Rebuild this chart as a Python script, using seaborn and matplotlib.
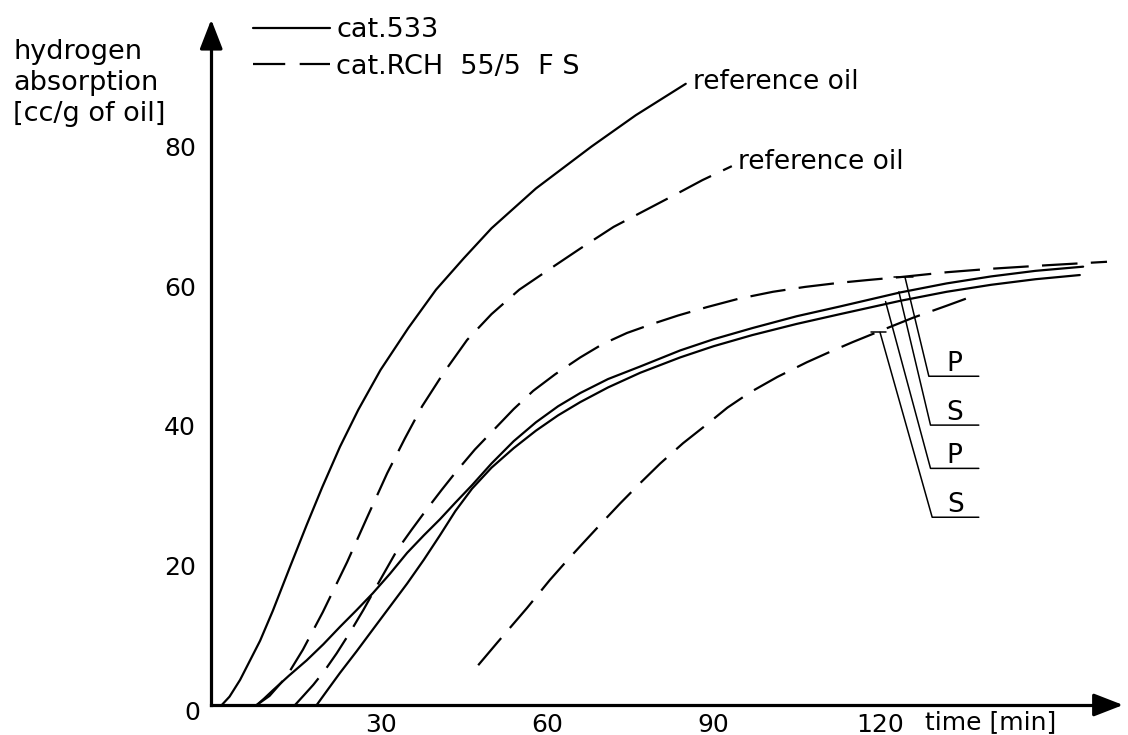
import pandas as pd
import matplotlib
matplotlib.use("Agg")
import matplotlib.pyplot as plt
from matplotlib.lines import Line2D
import seaborn as sns

# hydrogen absorption curves (time [min], cc/g of oil)
ref533_t = [1.4, 2.8, 4.7, 6.5, 8.3, 10.6, 13.7, 16.7, 19.5, 22.7, 26.0, 30.0, 35.0,
            40.0, 45.0, 50.0, 58.0, 68.0, 76.0, 85.0]
ref533_h = [0.0, 1.2, 3.6, 6.4, 9.2, 13.5, 19.8, 25.8, 31.2, 37.0, 42.3, 48.0, 54.0,
            59.5, 64.0, 68.3, 74.0, 80.0, 84.5, 89.0]

refrch_t = [7.7, 10.0, 13.0, 16.0, 19.6, 24.0, 27.6, 31.2, 34.4, 37.5, 41.3, 45.6,
            50.0, 55.0, 60.0, 66.0, 72.0, 78.0, 84.0, 88.0, 93.3]
refrch_h = [0.0, 1.3, 4.0, 7.9, 13.3, 20.5, 26.9, 33.2, 38.2, 42.8, 47.5, 52.3,
            56.0, 59.5, 62.2, 65.4, 68.5, 71.0, 73.5, 75.2, 77.2]

s533_t = [7.7, 9.0, 10.6, 13.5, 16.7, 19.7, 22.7, 25.7, 28.6, 31.7, 34.8, 37.8, 40.7,
          43.5, 46.5, 50.0, 54.0, 58.0, 62.0, 66.0, 71.0, 76.8, 84.0, 90.0, 97.0,
          105.0, 112.8, 123.6, 132.0, 140.0, 148.0, 156.6]
s533_h = [0.0, 0.9, 2.1, 4.2, 6.4, 8.7, 11.2, 13.6, 16.0, 18.8, 21.8, 24.3, 26.6,
          29.0, 31.5, 34.6, 37.8, 40.5, 42.8, 44.7, 46.7, 48.5, 50.8, 52.4, 54.0,
          55.7, 57.1, 59.1, 60.4, 61.4, 62.2, 62.8]

p533_t = [18.5, 20.5, 22.7, 25.7, 28.6, 31.7, 34.8, 37.8, 40.7, 43.5, 46.5, 50.0,
          54.0, 58.0, 62.0, 66.0, 71.0, 76.8, 84.0, 90.0, 97.0, 105.0, 112.8, 123.6,
          132.0, 140.0, 148.0, 156.0]
p533_h = [0.0, 2.2, 4.6, 7.7, 10.8, 14.1, 17.4, 20.8, 24.3, 27.8, 31.0, 34.0,
          36.8, 39.3, 41.5, 43.4, 45.5, 47.6, 49.8, 51.4, 53.0, 54.6, 56.0, 57.9,
          59.2, 60.2, 61.0, 61.6]

prch_t = [14.6, 16.2, 17.9, 20.0, 22.1, 24.5, 26.9, 30.0, 33.0, 35.6, 38.2, 41.0,
          43.6, 47.0, 50.5, 54.0, 57.5, 61.5, 66.0, 70.0, 74.4, 79.0, 83.6, 88.8,
          94.5, 100.7, 106.5, 112.8, 118.0, 123.6, 132.0, 140.0, 150.0, 160.9]
prch_h = [0.0, 1.4, 2.9, 5.0, 7.4, 10.4, 13.6, 18.0, 22.2, 25.1, 27.9, 30.8,
          33.4, 36.6, 39.5, 42.4, 45.0, 47.4, 49.8, 51.7, 53.3, 54.6, 55.8, 57.0,
          58.2, 59.2, 59.9, 60.5, 60.9, 61.3, 62.0, 62.5, 63.0, 63.5]

srch_t = [47.6, 51.0, 53.7, 56.4, 60.5, 63.5, 66.5, 70.0, 73.2, 76.8, 80.4, 84.5,
          88.8, 92.5, 96.6, 101.5, 106.8, 111.0, 115.1, 121.3, 126.0, 132.0, 137.5]
srch_h = [5.7, 8.9, 11.4, 13.9, 17.9, 20.6, 23.2, 26.2, 28.9, 31.8, 34.6, 37.5,
          40.2, 42.6, 44.8, 47.0, 49.1, 50.6, 52.0, 54.0, 55.5, 57.2, 58.8]

# P / S leader lines at the right hand side
lead_names = ["P", "S", "P", "S"]
lead_top_t = [124.5, 123.4, 121.0, 120.0]
lead_top_h = [61.3, 59.2, 57.8, 53.4]
lead_knee_t = [128.8, 129.1, 129.1, 129.4]
lead_knee_h = [47.1, 40.1, 33.9, 26.9]
lead_end_t = 137.8

x_ticks = [30, 60, 90, 120]
y_ticks = [20, 40, 60, 80]

curves = [
    ("ref533", "cat.533", ref533_t, ref533_h),
    ("refrch", "RCH", refrch_t, refrch_h),
    ("s533", "cat.533", s533_t, s533_h),
    ("p533", "cat.533", p533_t, p533_h),
    ("prch", "RCH", prch_t, prch_h),
    ("srch", "RCH", srch_t, srch_h),
]
frames = []
for name, cat, t, h in curves:
    frames.append(pd.DataFrame({"time": t, "h2": h, "curve": name, "catalyst": cat}))
df = pd.concat(frames, ignore_index=True)

sns.set_style("white")
plt.rcParams["font.family"] = ["DejaVu Sans"]
plt.rcParams["text.color"] = "black"

FS = 18
DASH = (16, 6)

fig = plt.figure(figsize=(11.28, 7.35), dpi=100)
ax = fig.add_axes([0.17496, 0.01233, 0.82168, 0.96863])

sns.lineplot(data=df, x="time", y="h2", units="curve", estimator=None, sort=False,
             style="catalyst", style_order=["cat.533", "RCH"],
             dashes={"cat.533": "", "RCH": DASH}, color="black", lw=1.6,
             legend=False, ax=ax)

ax.set_xlim(-3, 164)
ax.set_ylim(-3, 99)
ax.set_xlabel("")
ax.set_ylabel("")

# axes drawn as arrows through the origin
for side in ["top", "right"]:
    ax.spines[side].set_visible(False)
ax.spines["left"].set_position(("data", -0.5))
ax.spines["bottom"].set_position(("data", 0))
ax.spines["left"].set_bounds(0, 95)
ax.spines["bottom"].set_bounds(-0.5, 160)
for side in ["left", "bottom"]:
    ax.spines[side].set_linewidth(2.3)
    ax.spines[side].set_color("black")
arrow = dict(arrowstyle="-|>,head_length=0.9,head_width=0.35", color="black",
             lw=2.3, shrinkA=0, shrinkB=0, mutation_scale=20)
ax.annotate("", xy=(-0.5, 98.2), xytext=(-0.5, 94), arrowprops=arrow, annotation_clip=False)
ax.annotate("", xy=(163.8, 0), xytext=(159, 0), arrowprops=arrow, annotation_clip=False)

ax.set_xticks(x_ticks)
ax.set_yticks(y_ticks)
ax.tick_params(axis="y", direction="inout", length=16, width=1.6, pad=3,
               labelsize=FS, colors="black")
ax.tick_params(axis="x", direction="inout", length=11, width=1.4, pad=0,
               labelsize=FS, colors="black")
ax.text(-2.5, -1.2, "0", ha="right", va="center", fontsize=FS)
ax.text(128.1, -2.5, "time [min]", ha="left", va="center", fontsize=FS)

fig.text(13 / 1128, 1 - 39 / 735, "hydrogen\nabsorption\n[cc/g of oil]",
         ha="left", va="top", fontsize=19.5, linespacing=1.25)

# curve labels
ax.text(86.3, 89.2, "reference oil", ha="left", va="center", fontsize=19)
ax.text(94.4, 77.8, "reference oil", ha="left", va="center", fontsize=19)

for name, t0, h0, t1, h1 in zip(lead_names, lead_top_t, lead_top_h, lead_knee_t, lead_knee_h):
    ax.plot([t0, t1, lead_end_t], [h0, h1, h1], color="black", lw=1.1)
    ax.text((t1 + lead_end_t) / 2, h1 + 0.7, name, ha="center", va="baseline", fontsize=19)
ax.plot([lead_top_t[0] - 2.0, lead_top_t[0] + 1.5], [lead_top_h[0]] * 2, color="black", lw=1.1)
ax.plot([lead_top_t[3] - 1.6, lead_top_t[3] + 1.0], [lead_top_h[3]] * 2, color="black", lw=1.1)

handles = [Line2D([], [], color="black", lw=1.6),
           Line2D([], [], color="black", lw=1.6, dashes=(14.5, 6.5))]
ax.legend(handles, ["cat.533", "cat.RCH  55/5  F S"], loc="upper left",
          bbox_to_anchor=(253 / 1128, 1 - 17 / 735), bbox_transform=fig.transFigure,
          frameon=False, fontsize=19.5, handlelength=2.85, handletextpad=0.22,
          labelspacing=0.4, borderpad=0, borderaxespad=0)

fig.savefig("out.png", dpi=100)
